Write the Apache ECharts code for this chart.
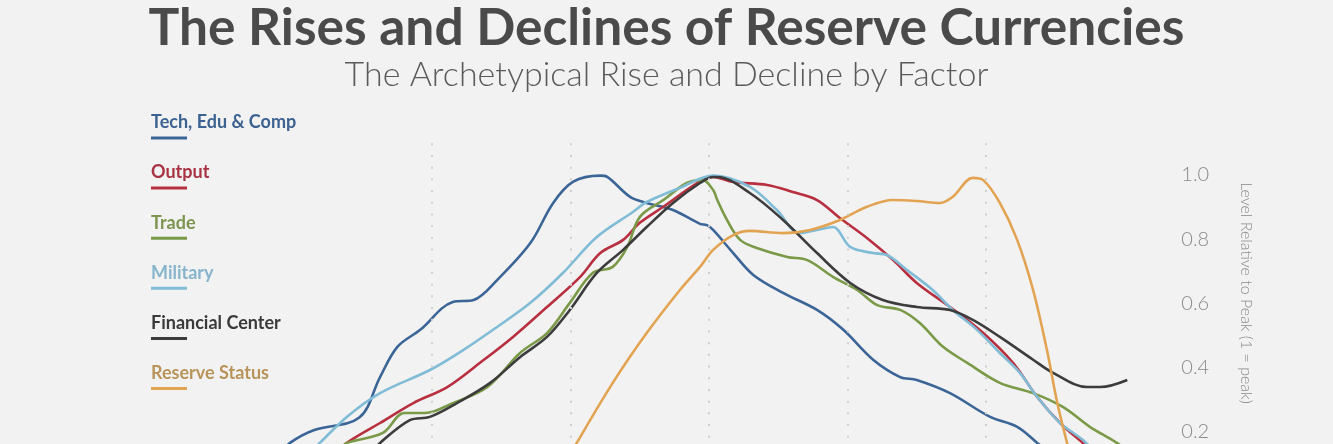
<!DOCTYPE html>
<html>
<head>
<meta charset="utf-8">
<script src="https://cdn.jsdelivr.net/npm/echarts@6/dist/echarts.min.js"></script>
<style>
  html, body { margin: 0; padding: 0; background: #f2f2f2; }
  #chart { width: 1333px; height: 444px; }
</style>
</head>
<body>
<div id="chart"></div>
<script>
// ---- Data (x = years around peak, y = level relative to peak) ----
const seriesNames = ['Tech, Edu & Comp', 'Output', 'Trade', 'Military', 'Financial Center', 'Reserve Status'];
const lineColors = ['#3b6597', '#b8303f', '#7a9a48', '#80bcd6', '#3c3c3c', '#e2a452'];
const textColors = ['#3c6291', '#a83443', '#7d9550', '#86b4cc', '#3a3a3a', '#b8945a'];

const techEdu = [[-62,0.13],[-60.5,0.166],[-57,0.206],[-50.5,0.245],[-47.5,0.371],[-45,0.465],[-41.7,0.518],[-37,0.605],[-34,0.611],[-30.6,0.673],[-25.8,0.788],[-22.5,0.913],[-19.6,0.979],[-15.7,0.998],[-14.7,0.994],[-11.4,0.932],[-9,0.913],[-5.2,0.891],[-1.3,0.848],[-0.3,0.844],[0.6,0.829],[3.5,0.757],[6.4,0.689],[10.7,0.633],[15.6,0.580],[19.4,0.518],[23.7,0.425],[27.6,0.371],[30,0.362],[34.8,0.321],[40.6,0.247],[44.5,0.216],[47.4,0.166],[50,0.12]];
const output = [[-54,0.13],[-52.3,0.166],[-47.5,0.228],[-42.7,0.290],[-37.8,0.340],[-33.1,0.415],[-28.3,0.496],[-23.4,0.589],[-18.6,0.683],[-15.7,0.757],[-12.4,0.798],[-10,0.851],[-6.6,0.901],[-1.7,0.975],[0.6,0.994],[3.5,0.978],[8.4,0.969],[12.1,0.947],[15.6,0.922],[18.9,0.866],[22.8,0.804],[26.6,0.735],[30,0.664],[34.8,0.589],[39.6,0.508],[43.9,0.415],[47.4,0.309],[50.7,0.228],[54,0.166],[56,0.13]];
const trade = [[-53,0.15],[-52.3,0.166],[-47.1,0.197],[-44,0.259],[-41,0.259],[-37,0.290],[-32,0.340],[-27.3,0.446],[-23.4,0.508],[-20.1,0.602],[-16.8,0.695],[-13.9,0.714],[-11.8,0.776],[-10,0.869],[-6.6,0.922],[-3.2,0.975],[-0.9,0.984],[0.6,0.953],[1.2,0.922],[2.6,0.860],[4.5,0.798],[6.9,0.773],[11.3,0.745],[14.2,0.735],[17.9,0.683],[21.4,0.642],[24.3,0.595],[27.6,0.580],[30.4,0.540],[33.8,0.465],[37.3,0.415],[42,0.353],[46.8,0.321],[51.1,0.278],[55,0.216],[58.9,0.166],[61,0.13]];
const military = [[-58,0.13],[-56.2,0.166],[-52.3,0.247],[-47.5,0.321],[-40.3,0.393],[-35.5,0.455],[-30.6,0.527],[-25.8,0.602],[-21.1,0.695],[-16.2,0.807],[-11,0.885],[-9,0.916],[-4.2,0.960],[0.6,0.998],[5.9,0.963],[9.8,0.891],[13.1,0.819],[15.6,0.829],[17.9,0.838],[20.4,0.776],[23.7,0.757],[25.7,0.751],[28.6,0.704],[32.3,0.642],[35.2,0.580],[38.7,0.518],[42,0.446],[44.9,0.384],[47.4,0.309],[50.7,0.228],[54,0.175],[56,0.13]];
const financial = [[-48.5,0.14],[-47.5,0.166],[-43.2,0.237],[-40.3,0.247],[-36.4,0.290],[-31.6,0.353],[-27.3,0.433],[-23.4,0.496],[-20.1,0.580],[-16.2,0.695],[-12.4,0.767],[-9,0.838],[-5.2,0.913],[-1.3,0.975],[0.6,0.994],[1.2,0.994],[5.9,0.944],[10.7,0.860],[15.6,0.757],[20.4,0.664],[25.1,0.611],[30,0.589],[34.8,0.580],[38.1,0.549],[42,0.496],[46.8,0.425],[49.7,0.384],[54.6,0.340],[56.5,0.340],[60.4,0.362]];
const reserve = [[-20,0.13],[-19.1,0.166],[-13.9,0.353],[-9,0.508],[-4.2,0.642],[-1.3,0.714],[0.6,0.767],[3.5,0.813],[5.9,0.826],[10.7,0.819],[14.6,0.829],[18.9,0.860],[22.8,0.901],[26.6,0.922],[30,0.919],[33.4,0.913],[35.2,0.932],[38.1,0.991],[39.6,0.984],[42,0.913],[44.5,0.798],[46.8,0.642],[48.8,0.455],[50.3,0.290],[51.7,0.166],[52.5,0.10]];
const seriesData = [techEdu, output, trade, military, financial, reserve];

const gridYears = [-40, -20, 0, 20, 40];
const yTicks = [0, 0.2, 0.4, 0.6, 0.8, 1.0];

const titleText = 'The Rises and Declines of Reserve Currencies';
const subtitleText = 'The Archetypical Rise and Decline by Factor';
const yAxisTitle = 'Level Relative to Peak (1 = peak)';

// ---- Chart ----
const chart = echarts.init(document.getElementById('chart'), null, { renderer: 'canvas' });

const rich = {};
seriesNames.forEach((n, i) => {
  rich['t' + i] = { fontFamily: 'Lato', fontWeight: 'bold', fontSize: 18, color: textColors[i], lineHeight: 22, align: 'left' };
  rich['b' + i] = { width: 36, height: 3, backgroundColor: lineColors[i], lineHeight: 9, align: 'left' };
});

const series = seriesNames.map((name, i) => ({
  name: name,
  type: 'line',
  data: seriesData[i],
  smooth: 0.35,
  showSymbol: false,
  symbol: 'none',
  clip: true,
  z: 3,
  lineStyle: { color: lineColors[i], width: 2.6 },
  itemStyle: { color: lineColors[i] },
  emphasis: { disabled: true }
}));

series.unshift({
  name: 'grid',
  type: 'line',
  data: [],
  z: 1,
  silent: true,
  markLine: {
    silent: true,
    symbol: 'none',
    label: { show: false },
    lineStyle: { color: '#cfcfcf', type: [2, 9.7], width: 2 },
    data: gridYears.map(x => ({ xAxis: x }))
  }
});

const pxPerYear = 6.925;
const zeroX = 709;
const xMin = -62, xMax = 62;
const yMax = 1.1;

chart.setOption({
  backgroundColor: '#f2f2f2',
  animation: false,
  title: [
    { text: titleText, left: 'center', top: -3,
      textStyle: { fontFamily: 'Lato', fontWeight: 'bold', fontSize: 51.5, color: '#4a4a4a' } },
    { text: subtitleText, left: 'center', top: 53,
      textStyle: { fontFamily: 'Lato', fontWeight: 300, fontSize: 34, color: '#5a5a5a' } }
  ],
  legend: {
    data: seriesNames,
    orient: 'vertical',
    left: 146,
    top: 113.5,
    padding: 0,
    itemGap: 19.6,
    itemWidth: 0,
    itemHeight: 0,
    icon: 'rect',
    selectedMode: false,
    formatter: function (name) {
      const i = seriesNames.indexOf(name);
      return '{t' + i + '|' + name + '}\n{b' + i + '| }';
    },
    textStyle: { rich: rich }
  },
  grid: {
    left: zeroX + xMin * pxPerYear,
    width: (xMax - xMin) * pxPerYear,
    top: 175 - (yMax - 1) * 321.25,
    height: yMax * 321.25,
    containLabel: false,
    outerBoundsMode: 'none'
  },
  xAxis: {
    type: 'value',
    min: xMin,
    max: xMax,
    show: false,
    splitLine: { show: false }
  },
  yAxis: {
    type: 'value',
    position: 'right',
    min: yTicks[0],
    max: yMax,
    interval: 0.2,
    axisLine: { show: false },
    axisTick: { show: false },
    splitLine: { show: false },
    axisLabel: {
      showMaxLabel: false,
      margin: 43,
      color: '#8a8a8a',
      fontFamily: 'Lato',
      fontWeight: 300,
      fontSize: 20,
      formatter: v => v.toFixed(1)
    }
  },
  graphic: [{
    type: 'text',
    x: 1246,
    y: 293,
    rotation: -Math.PI / 2,
    style: {
      text: yAxisTitle,
      fill: '#8a8a8a',
      font: '300 16px Lato',
      align: 'center',
      verticalAlign: 'middle'
    }
  }],
  series: series
});
</script>
</body>
</html>
